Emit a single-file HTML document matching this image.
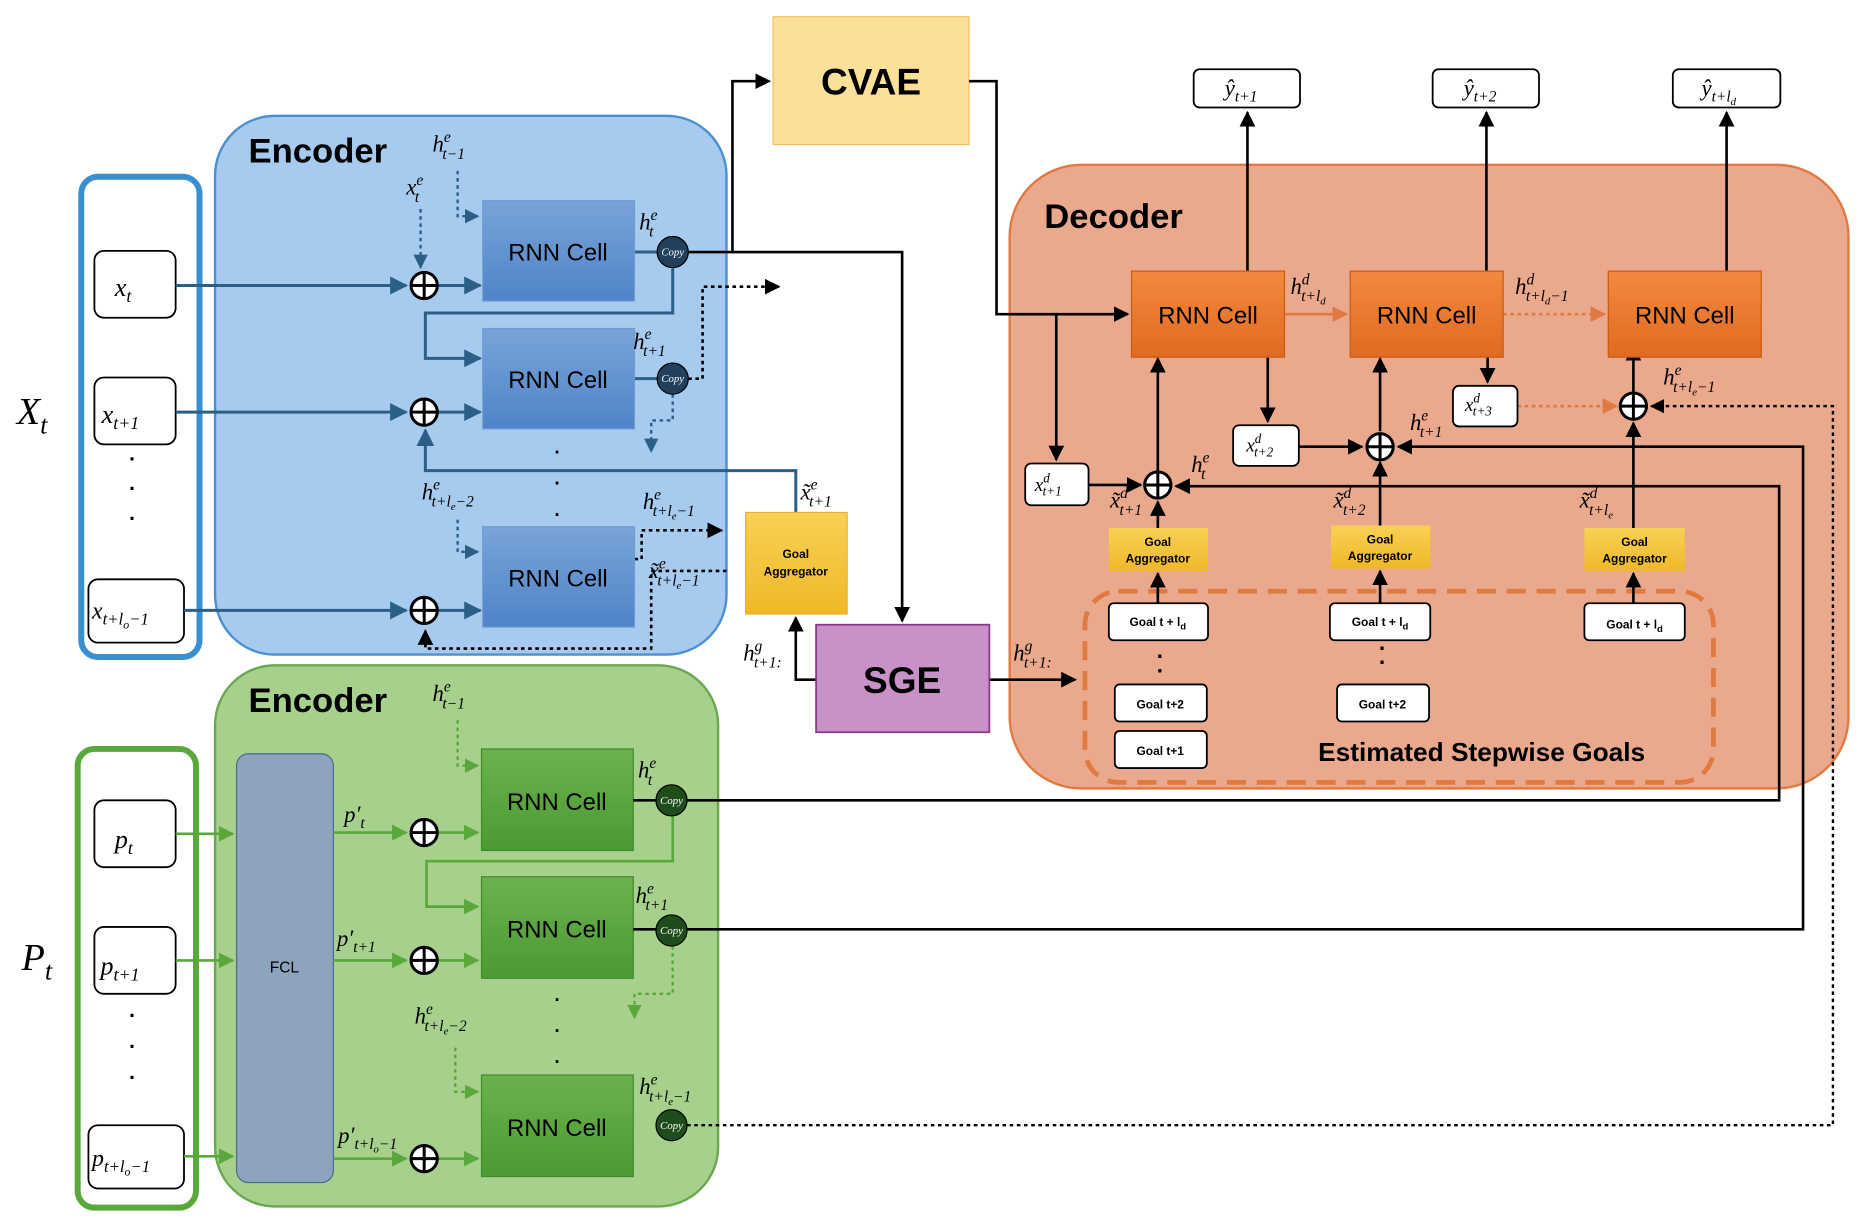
<!DOCTYPE html>
<html><head><meta charset="utf-8"><style>
html,body{margin:0;padding:0;background:#fff}
svg{display:block;font-size:19px}
.m{font-family:"Liberation Serif",serif;font-style:italic;fill:#000}
.s{font-size:13px}
.b{font-family:"Liberation Sans",sans-serif;font-weight:bold;fill:#000}
.r{font-family:"Liberation Sans",sans-serif;font-size:20px;fill:#000}
.cp{font-family:"Liberation Serif",serif;font-style:italic;font-size:9px;fill:#fff}
.g{font-family:"Liberation Sans",sans-serif;font-weight:bold;font-size:10px;fill:#000}
</style></head><body>
<svg width="1864" height="1216" viewBox="0 0 1560 1018" preserveAspectRatio="none" xmlns="http://www.w3.org/2000/svg">
<defs>
<marker id="a" viewBox="0 0 10 10" refX="9" refY="5" markerWidth="6" markerHeight="6" orient="auto"><path d="M0,0L10,5L0,10z" fill="#000"/></marker>
<marker id="ab" viewBox="0 0 10 10" refX="9" refY="5" markerWidth="6" markerHeight="6" orient="auto"><path d="M0,0L10,5L0,10z" fill="#2c5f86"/></marker>
<marker id="ag" viewBox="0 0 10 10" refX="9" refY="5" markerWidth="6" markerHeight="6" orient="auto"><path d="M0,0L10,5L0,10z" fill="#5aa73c"/></marker>
<marker id="ao" viewBox="0 0 10 10" refX="9" refY="5" markerWidth="6" markerHeight="6" orient="auto"><path d="M0,0L10,5L0,10z" fill="#e07a40"/></marker>
<linearGradient id="bl" x1="0" y1="0" x2="0" y2="1"><stop offset="0" stop-color="#79a4d8"/><stop offset="1" stop-color="#4f84c8"/></linearGradient>
<linearGradient id="gr" x1="0" y1="0" x2="0" y2="1"><stop offset="0" stop-color="#6cb24c"/><stop offset="1" stop-color="#4c9a34"/></linearGradient>
<linearGradient id="or" x1="0" y1="0" x2="0" y2="1"><stop offset="0" stop-color="#f28a3e"/><stop offset="1" stop-color="#e06a20"/></linearGradient>
<linearGradient id="ga" x1="0" y1="0" x2="0" y2="1"><stop offset="0" stop-color="#f8d154"/><stop offset="1" stop-color="#f0b828"/></linearGradient>
<g id="pl"><circle r="11" fill="#fff" stroke="#000" stroke-width="2.5"/><path d="M-11,0H11M0,-11V11" stroke="#000" stroke-width="2.5"/></g>
</defs>

<!-- Decoder background first -->
<rect x="845" y="138" width="702" height="522" rx="60" fill="#eaa98d" stroke="#e07a40" stroke-width="2"/>
<text class="b" x="874" y="191" font-size="29">Decoder</text>
<rect x="908" y="495" width="526" height="160" rx="28" fill="none" stroke="#e07a40" stroke-width="4" stroke-dasharray="16,9"/>
<text class="b" x="1240" y="637" font-size="22" text-anchor="middle">Estimated Stepwise Goals</text>

<!-- Blue encoder -->
<rect x="68" y="148" width="99" height="402" rx="14" fill="none" stroke="#3a8fd0" stroke-width="5"/>
<rect x="180" y="97" width="428" height="451" rx="50" fill="#a6cbef" stroke="#4a90d0" stroke-width="2"/>
<text class="b" x="208" y="136" font-size="29">Encoder</text>
<text class="m" x="14" y="355" font-size="32">X<tspan font-size="22" dy="8">t</tspan></text>
<rect x="79" y="210" width="68" height="56" rx="8" fill="#fff" stroke="#000" stroke-width="1.5"/>
<text class="m" x="96" y="248" font-size="22">x<tspan font-size="15" dy="5">t</tspan></text>
<rect x="79" y="316" width="68" height="56" rx="8" fill="#fff" stroke="#000" stroke-width="1.5"/>
<text class="m" x="85" y="354" font-size="22">x<tspan font-size="15" dy="5">t+1</tspan></text>
<text class="b" x="108" y="390" font-size="18">·</text><text class="b" x="108" y="415" font-size="18">·</text><text class="b" x="108" y="440" font-size="18">·</text>
<rect x="74" y="485" width="80" height="53" rx="8" fill="#fff" stroke="#000" stroke-width="1.5"/>
<text class="m" x="77" y="518" font-size="20">x<tspan font-size="14" dy="5">t+l<tspan font-size="10" dy="3">o</tspan><tspan dy="-3">−1</tspan></tspan></text>

<g stroke="#2c5f86" stroke-width="2.5" fill="none">
<path d="M147,239H340" marker-end="url(#ab)"/>
<path d="M147,345H340" marker-end="url(#ab)"/>
<path d="M154,511H340" marker-end="url(#ab)"/>
<path d="M367,239H402" marker-end="url(#ab)"/>
<path d="M367,345H402" marker-end="url(#ab)"/>
<path d="M367,511H402" marker-end="url(#ab)"/>
<path d="M531,211H550"/><path d="M531,317H550"/>
<path d="M563,224V262H356V300H402" marker-end="url(#ab)"/>
<path d="M666,429V394H356V360" marker-end="url(#ab)"/>
</g>
<g stroke="#2c5f86" stroke-width="2" fill="none" stroke-dasharray="3,3">
<path d="M352,175V224" marker-end="url(#ab)"/>
<path d="M383,143V181H400" marker-end="url(#ab)"/>
<path d="M383,435V462H400" marker-end="url(#ab)"/>
<path d="M563,330V352H545V378" marker-end="url(#ab)"/>
</g>
<g stroke="#000" stroke-width="2.2" fill="none" stroke-dasharray="3,3">
<path d="M576,317H588V240H652" marker-end="url(#a)"/>
<path d="M531,468H537V444H604" marker-end="url(#a)"/>
<path d="M608,478H545V543H356V528" marker-end="url(#a)"/>
</g>
<rect x="404" y="168" width="127" height="84" fill="url(#bl)" stroke="#6f9bd3"/>
<rect x="404" y="275" width="127" height="84" fill="url(#bl)" stroke="#6f9bd3"/>
<rect x="404" y="441" width="127" height="84" fill="url(#bl)" stroke="#6f9bd3"/>
<text class="r" x="467" y="218" text-anchor="middle">RNN Cell</text>
<text class="r" x="467" y="325" text-anchor="middle">RNN Cell</text>
<text class="r" x="467" y="491" text-anchor="middle">RNN Cell</text>
<text class="b" x="464" y="384" font-size="16">·</text><text class="b" x="464" y="410" font-size="16">·</text><text class="b" x="464" y="436" font-size="16">·</text>
<g><circle cx="563" cy="211" r="13" fill="#21405e" stroke="#000"/><text class="cp" x="563" y="214" text-anchor="middle">Copy</text></g>
<g><circle cx="563" cy="317" r="13" fill="#21405e" stroke="#000"/><text class="cp" x="563" y="320" text-anchor="middle">Copy</text></g>
<use href="#pl" x="355" y="239"/><use href="#pl" x="355" y="345"/><use href="#pl" x="355" y="511"/>
<text class="m" x="362" y="127">h<tspan class="s" dy="-8">e</tspan><tspan class="s" dx="-7" dy="14">t−1</tspan></text>
<text class="m" x="340" y="163">x<tspan class="s" dy="-8">e</tspan><tspan class="s" dx="-7" dy="14">t</tspan></text>
<text class="m" x="535" y="192">h<tspan class="s" dy="-8">e</tspan><tspan class="s" dx="-7" dy="14">t</tspan></text>
<text class="m" x="530" y="292">h<tspan class="s" dy="-8">e</tspan><tspan class="s" dx="-7" dy="14">t+1</tspan></text>
<text class="m" x="353" y="418">h<tspan class="s" dy="-8">e</tspan><tspan class="s" dx="-7" dy="14">t+l<tspan font-size="9" dy="3">e</tspan><tspan dy="-3">−2</tspan></tspan></text>
<text class="m" x="538" y="426">h<tspan class="s" dy="-8">e</tspan><tspan class="s" dx="-7" dy="14">t+l<tspan font-size="9" dy="3">e</tspan><tspan dy="-3">−1</tspan></tspan></text>
<text class="m" x="543" y="484">x̃<tspan class="s" dy="-8">e</tspan><tspan class="s" dx="-7" dy="14">t+l<tspan font-size="9" dy="3">e</tspan><tspan dy="-3">−1</tspan></tspan></text>
<text class="m" x="670" y="418">x̃<tspan class="s" dy="-8">e</tspan><tspan class="s" dx="-7" dy="14">t+1</tspan></text>

<!-- CVAE / SGE / GA -->
<rect x="647" y="14" width="164" height="107" fill="#fbe09a" stroke="#f0c060"/>
<text class="b" x="729" y="79" font-size="31" text-anchor="middle">CVAE</text>
<g stroke="#000" stroke-width="2.2" fill="none">
<path d="M576,211H613V68H644" marker-end="url(#a)"/>
<path d="M613,211H755V520" marker-end="url(#a)"/>
<path d="M811,68H834V263H944" marker-end="url(#a)"/>
<path d="M683,569H666V517" marker-end="url(#a)"/>
<path d="M828,569H900" marker-end="url(#a)"/>
</g>
<rect x="624" y="429" width="85" height="85" fill="url(#ga)" stroke="#e8b030"/>
<text class="g" x="666" y="467" text-anchor="middle">Goal</text><text class="g" x="666" y="482" text-anchor="middle">Aggregator</text>
<rect x="683" y="523" width="145" height="90" fill="#c891c8" stroke="#8b3a8b" stroke-width="1.5"/>
<text class="b" x="755" y="580" font-size="31" text-anchor="middle">SGE</text>
<text class="m" x="622" y="553">h<tspan class="s" dy="-8">g</tspan><tspan class="s" dx="-7" dy="14">t+1:</tspan></text>
<text class="m" x="848" y="553">h<tspan class="s" dy="-8">g</tspan><tspan class="s" dx="-7" dy="14">t+1:</tspan></text>

<!-- Green encoder -->
<rect x="65" y="627" width="99" height="384" rx="14" fill="none" stroke="#5aa73c" stroke-width="5"/>
<rect x="180" y="557" width="421" height="453" rx="50" fill="#a6d08c" stroke="#6aa84f" stroke-width="2"/>
<text class="b" x="208" y="596" font-size="29">Encoder</text>
<text class="m" x="18" y="812" font-size="32">P<tspan font-size="22" dy="8">t</tspan></text>
<rect x="79" y="670" width="68" height="56" rx="8" fill="#fff" stroke="#000" stroke-width="1.5"/>
<text class="m" x="96" y="710" font-size="22">p<tspan font-size="15" dy="5">t</tspan></text>
<rect x="79" y="776" width="68" height="56" rx="8" fill="#fff" stroke="#000" stroke-width="1.5"/>
<text class="m" x="84" y="816" font-size="22">p<tspan font-size="15" dy="5">t+1</tspan></text>
<text class="b" x="108" y="856" font-size="18">·</text><text class="b" x="108" y="882" font-size="18">·</text><text class="b" x="108" y="908" font-size="18">·</text>
<rect x="74" y="942" width="80" height="53" rx="8" fill="#fff" stroke="#000" stroke-width="1.5"/>
<text class="m" x="77" y="976" font-size="20">p<tspan font-size="14" dy="5">t+l<tspan font-size="10" dy="3">o</tspan><tspan dy="-3">−1</tspan></tspan></text>
<rect x="198" y="631" width="81" height="359" rx="10" fill="#8ea3bd" stroke="#4a6a90"/>
<text x="238" y="814" font-family="Liberation Sans,sans-serif" font-size="13" text-anchor="middle">FCL</text>
<g stroke="#5aa73c" stroke-width="2.2" fill="none">
<path d="M147,698H195" marker-end="url(#ag)"/><path d="M147,804H195" marker-end="url(#ag)"/><path d="M154,968H195" marker-end="url(#ag)"/>
<path d="M279,697H340" marker-end="url(#ag)"/><path d="M279,804H340" marker-end="url(#ag)"/><path d="M279,970H340" marker-end="url(#ag)"/>
<path d="M367,697H400" marker-end="url(#ag)"/><path d="M367,804H400" marker-end="url(#ag)"/><path d="M367,970H400" marker-end="url(#ag)"/>
<path d="M563,683V721H357V759H400" marker-end="url(#ag)"/>
</g>
<g stroke="#5aa73c" stroke-width="2" fill="none" stroke-dasharray="3,3">
<path d="M383,603V641H400" marker-end="url(#ag)"/>
<path d="M381,877V914H400" marker-end="url(#ag)"/>
<path d="M563,792V832H531V852" marker-end="url(#ag)"/>
</g>
<rect x="403" y="627" width="127" height="85" fill="url(#gr)" stroke="#3f8a2a"/>
<rect x="403" y="734" width="127" height="85" fill="url(#gr)" stroke="#3f8a2a"/>
<rect x="403" y="900" width="127" height="85" fill="url(#gr)" stroke="#3f8a2a"/>
<text class="r" x="466" y="678" text-anchor="middle">RNN Cell</text>
<text class="r" x="466" y="785" text-anchor="middle">RNN Cell</text>
<text class="r" x="466" y="951" text-anchor="middle">RNN Cell</text>
<text class="b" x="464" y="842" font-size="16">·</text><text class="b" x="464" y="868" font-size="16">·</text><text class="b" x="464" y="894" font-size="16">·</text>
<use href="#pl" x="355" y="697"/><use href="#pl" x="355" y="804"/><use href="#pl" x="355" y="970"/>
<text class="m" x="288" y="688">p′<tspan class="s" dy="5">t</tspan></text>
<text class="m" x="282" y="792">p′<tspan class="s" dy="5">t+1</tspan></text>
<text class="m" x="283" y="957">p′<tspan class="s" dy="5">t+l<tspan font-size="9" dy="3">o</tspan><tspan dy="-3">−1</tspan></tspan></text>
<text class="m" x="362" y="587">h<tspan class="s" dy="-8">e</tspan><tspan class="s" dx="-7" dy="14">t−1</tspan></text>
<text class="m" x="534" y="651">h<tspan class="s" dy="-8">e</tspan><tspan class="s" dx="-7" dy="14">t</tspan></text>
<text class="m" x="532" y="756">h<tspan class="s" dy="-8">e</tspan><tspan class="s" dx="-7" dy="14">t+1</tspan></text>
<text class="m" x="347" y="857">h<tspan class="s" dy="-8">e</tspan><tspan class="s" dx="-7" dy="14">t+l<tspan font-size="9" dy="3">e</tspan><tspan dy="-3">−2</tspan></tspan></text>
<text class="m" x="535" y="916">h<tspan class="s" dy="-8">e</tspan><tspan class="s" dx="-7" dy="14">t+l<tspan font-size="9" dy="3">e</tspan><tspan dy="-3">−1</tspan></tspan></text>

<!-- Decoder connectors -->
<g stroke="#000" stroke-width="2.2" fill="none">
<path d="M530,670H1489V407H984" marker-end="url(#a)"/>
<path d="M530,778H1509V374H1170" marker-end="url(#a)"/>
<path d="M884,263V385" marker-end="url(#a)"/>
<path d="M911,406H955" marker-end="url(#a)"/>
<path d="M1061,299V353" marker-end="url(#a)"/>
<path d="M1087,374H1140" marker-end="url(#a)"/>
<path d="M1245,299V320" marker-end="url(#a)"/>
<path d="M969,394V300" marker-end="url(#a)"/>
<path d="M1155,361V300" marker-end="url(#a)"/>
<path d="M1367,328V290" marker-end="url(#a)"/>
<path d="M969,442V420" marker-end="url(#a)"/>
<path d="M1155,440V387" marker-end="url(#a)"/>
<path d="M1367,442V354" marker-end="url(#a)"/>
<path d="M969,505V480" marker-end="url(#a)"/>
<path d="M1155,505V478" marker-end="url(#a)"/>
<path d="M1367,505V480" marker-end="url(#a)"/>
<path d="M1044,227V94" marker-end="url(#a)"/>
<path d="M1244,227V94" marker-end="url(#a)"/>
<path d="M1445,227V94" marker-end="url(#a)"/>
</g>
<path d="M575,942H1534V340H1382" stroke="#000" stroke-width="2" fill="none" stroke-dasharray="3,3" marker-end="url(#a)"/>
<path d="M1075,263H1127" stroke="#e07a40" stroke-width="2.2" fill="none" marker-end="url(#ao)"/>
<path d="M1258,263H1343" stroke="#e07a40" stroke-width="2.2" fill="none" stroke-dasharray="3,3" marker-end="url(#ao)"/>
<path d="M1270,340H1353" stroke="#e07a40" stroke-width="2.2" fill="none" stroke-dasharray="3,3" marker-end="url(#ao)"/>

<g><circle cx="562" cy="670" r="13" fill="#1f4d1a" stroke="#000"/><text class="cp" x="562" y="673" text-anchor="middle">Copy</text></g>
<g><circle cx="562" cy="779" r="13" fill="#1f4d1a" stroke="#000"/><text class="cp" x="562" y="782" text-anchor="middle">Copy</text></g>
<g><circle cx="562" cy="942" r="13" fill="#1f4d1a" stroke="#000"/><text class="cp" x="562" y="945" text-anchor="middle">Copy</text></g>

<rect x="947" y="227" width="128" height="72" fill="url(#or)" stroke="#c85a10"/>
<rect x="1130" y="227" width="128" height="72" fill="url(#or)" stroke="#c85a10"/>
<rect x="1346" y="227" width="128" height="72" fill="url(#or)" stroke="#c85a10"/>
<text class="r" x="1011" y="271" text-anchor="middle">RNN Cell</text>
<text class="r" x="1194" y="271" text-anchor="middle">RNN Cell</text>
<text class="r" x="1410" y="271" text-anchor="middle">RNN Cell</text>
<use href="#pl" x="969" y="406"/><use href="#pl" x="1155" y="374"/><use href="#pl" x="1367" y="340"/>

<g fill="#fff" stroke="#000" stroke-width="1.5">
<rect x="999" y="58" width="89" height="32" rx="5"/><rect x="1199" y="58" width="89" height="32" rx="5"/><rect x="1400" y="58" width="90" height="32" rx="5"/>
<rect x="858" y="388" width="53" height="35" rx="5"/><rect x="1032" y="356" width="55" height="34" rx="5"/><rect x="1216" y="323" width="54" height="34" rx="5"/>
<rect x="928" y="505" width="83" height="31" rx="4"/><rect x="1113" y="505" width="84" height="31" rx="4"/><rect x="1326" y="505" width="84" height="31" rx="4"/>
<rect x="933" y="573" width="77" height="31" rx="4"/><rect x="1119" y="573" width="77" height="31" rx="4"/><rect x="933" y="612" width="77" height="31" rx="4"/>
</g>
<text class="m" x="1025" y="80">ŷ<tspan class="s" dy="5">t+1</tspan></text>
<text class="m" x="1225" y="80">ŷ<tspan class="s" dy="5">t+2</tspan></text>
<text class="m" x="1424" y="80">ŷ<tspan class="s" dy="5">t+l<tspan font-size="9" dy="3">d</tspan></tspan></text>
<text class="m" x="866" y="411" font-size="16">x<tspan font-size="11" dy="-7">d</tspan><tspan font-size="11" dx="-6" dy="11">t+1</tspan></text>
<text class="m" x="1043" y="378" font-size="16">x<tspan font-size="11" dy="-7">d</tspan><tspan font-size="11" dx="-6" dy="11">t+2</tspan></text>
<text class="m" x="1226" y="344" font-size="16">x<tspan font-size="11" dy="-7">d</tspan><tspan font-size="11" dx="-6" dy="11">t+3</tspan></text>
<text class="g" x="969" y="524" text-anchor="middle">Goal t + l<tspan font-size="8" dy="3">d</tspan></text>
<text class="g" x="1155" y="524" text-anchor="middle">Goal t + l<tspan font-size="8" dy="3">d</tspan></text>
<text class="g" x="1368" y="526" text-anchor="middle">Goal t + l<tspan font-size="8" dy="3">d</tspan></text>
<text class="g" x="971" y="593" text-anchor="middle">Goal t+2</text>
<text class="g" x="1157" y="593" text-anchor="middle">Goal t+2</text>
<text class="g" x="971" y="632" text-anchor="middle">Goal t+1</text>
<text class="b" x="968" y="556">·</text><text class="b" x="968" y="568">·</text><text class="b" x="1154" y="549">·</text><text class="b" x="1154" y="561">·</text>
<rect x="928" y="442" width="83" height="36" fill="url(#ga)"/><rect x="1114" y="440" width="83" height="36" fill="url(#ga)"/><rect x="1326" y="442" width="84" height="36" fill="url(#ga)"/>
<text class="g" x="969" y="457" text-anchor="middle">Goal</text><text class="g" x="969" y="471" text-anchor="middle">Aggregator</text>
<text class="g" x="1155" y="455" text-anchor="middle">Goal</text><text class="g" x="1155" y="469" text-anchor="middle">Aggregator</text>
<text class="g" x="1368" y="457" text-anchor="middle">Goal</text><text class="g" x="1368" y="471" text-anchor="middle">Aggregator</text>
<text class="m" x="929" y="425">x̃<tspan class="s" dy="-8">d</tspan><tspan class="s" dx="-7" dy="14">t+1</tspan></text>
<text class="m" x="1116" y="425">x̃<tspan class="s" dy="-8">d</tspan><tspan class="s" dx="-7" dy="14">t+2</tspan></text>
<text class="m" x="1322" y="425">x̃<tspan class="s" dy="-8">d</tspan><tspan class="s" dx="-7" dy="14">t+l<tspan font-size="9" dy="3">e</tspan></tspan></text>
<text class="m" x="997" y="395">h<tspan class="s" dy="-8">e</tspan><tspan class="s" dx="-7" dy="14">t</tspan></text>
<text class="m" x="1180" y="360">h<tspan class="s" dy="-8">e</tspan><tspan class="s" dx="-7" dy="14">t+1</tspan></text>
<text class="m" x="1392" y="322">h<tspan class="s" dy="-8">e</tspan><tspan class="s" dx="-7" dy="14">t+l<tspan font-size="9" dy="3">e</tspan><tspan dy="-3">−1</tspan></tspan></text>
<text class="m" x="1080" y="246">h<tspan class="s" dy="-8">d</tspan><tspan class="s" dx="-7" dy="14">t+l<tspan font-size="9" dy="3">d</tspan></tspan></text>
<text class="m" x="1268" y="246">h<tspan class="s" dy="-8">d</tspan><tspan class="s" dx="-7" dy="14">t+l<tspan font-size="9" dy="3">d</tspan><tspan dy="-3">−1</tspan></tspan></text>
</svg>
</body></html>
